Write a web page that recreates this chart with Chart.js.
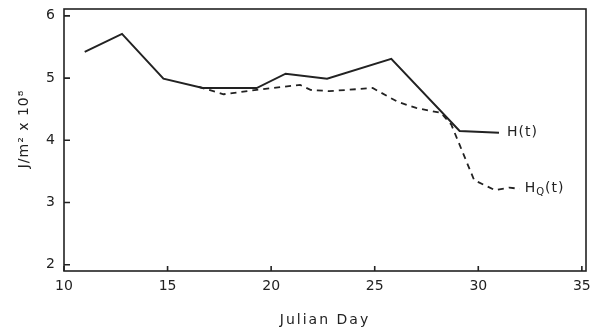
<!DOCTYPE html>
<html lang="en">
<head>
    <meta charset="UTF-8">
    <title>H(t) vs Julian Day</title>
    <style>
        body { margin: 0; background: #fff; }
        #wrap { width: 606px; height: 327px; }
    </style>
    <script src="https://cdn.jsdelivr.net/npm/chart.js"></script>
</head>
<body>
    <div id="wrap">
        <canvas id="chart" width="606" height="327"></canvas>
    </div>

    <script>
        // values
        const hDays = [11.0, 12.8, 14.8, 16.7, 19.3, 20.7, 22.7, 25.8, 29.1, 31.0];
        const hVals = [5.42, 5.71, 4.99, 4.84, 4.84, 5.07, 4.99, 5.31, 4.15, 4.12];
        const hqDays = [16.5, 17.7, 19.3, 21.4, 21.9, 22.8, 24.9, 26.1, 27.0, 28.2, 28.7, 29.8, 30.8, 31.5, 32.0];
        const hqVals = [4.86, 4.74, 4.81, 4.89, 4.81, 4.79, 4.84, 4.62, 4.52, 4.44, 4.25, 3.36, 3.20, 3.24, 3.22];
        const xTicks = [10, 15, 20, 25, 30, 35];
        const yTicks = [2, 3, 4, 5, 6];

        const ink = '#222';
        const fontFam = '"DejaVu Sans", sans-serif';

        function toPoints(xs, ys) {
            return xs.map((x, i) => ({ x: x, y: ys[i] }));
        }

        // frame, inward ticks, axis titles and curve labels
        const paperPlugin = {
            id: 'paper',
            afterDraw(chart) {
                const ctx = chart.ctx;
                const a = chart.chartArea;
                const xs = chart.scales.x, ys = chart.scales.y;
                ctx.save();
                ctx.strokeStyle = ink;
                ctx.lineWidth = 1.6;
                ctx.strokeRect(a.left, a.top, a.right - a.left, a.bottom - a.top);

                ctx.beginPath();
                xTicks.forEach(v => {
                    const px = xs.getPixelForValue(v);
                    ctx.moveTo(px, a.bottom);
                    ctx.lineTo(px, a.bottom - 5);
                });
                yTicks.forEach(v => {
                    const py = ys.getPixelForValue(v);
                    ctx.moveTo(a.left, py);
                    ctx.lineTo(a.left + 6, py);
                });
                ctx.stroke();

                ctx.fillStyle = ink;
                ctx.textBaseline = 'middle';

                // x title
                ctx.font = '14px ' + fontFam;
                ctx.letterSpacing = '2px';
                ctx.textAlign = 'center';
                ctx.fillText('Julian Day', (a.left + a.right) / 2, 320);

                // y title
                ctx.save();
                ctx.translate(24, 129);
                ctx.rotate(-Math.PI / 2);
                ctx.letterSpacing = '1px';
                ctx.fillText('J/m\u00B2 x 10\u2078', 0, 0);
                ctx.restore();

                // curve labels
                ctx.textAlign = 'left';
                ctx.letterSpacing = '1px';
                const hx = xs.getPixelForValue(hDays[hDays.length - 1]) + 8;
                const hy = ys.getPixelForValue(hVals[hVals.length - 1]);
                ctx.fillText('H(t)', hx, hy);

                const qx = xs.getPixelForValue(hqDays[hqDays.length - 1]) + 5;
                const qy = ys.getPixelForValue(hqVals[hqVals.length - 1]);
                ctx.fillText('H', qx, qy);
                let w = ctx.measureText('H').width;
                ctx.font = '10px ' + fontFam;
                ctx.fillText('Q', qx + w, qy + 4);
                w += ctx.measureText('Q').width;
                ctx.font = '14px ' + fontFam;
                ctx.fillText('(t)', qx + w, qy);
                ctx.restore();
            }
        };

        new Chart(document.getElementById('chart'), {
            type: 'line',
            data: {
                datasets: [{
                    label: 'H(t)',
                    data: toPoints(hDays, hVals),
                    borderColor: ink,
                    borderWidth: 2,
                    pointRadius: 0,
                    tension: 0,
                    fill: false
                }, {
                    label: 'HQ(t)',
                    data: toPoints(hqDays, hqVals),
                    borderColor: ink,
                    borderWidth: 1.8,
                    borderDash: [6, 5],
                    pointRadius: 0,
                    tension: 0,
                    fill: false
                }]
            },
            options: {
                responsive: false,
                animation: false,
                layout: { padding: { top: 9, right: 20, left: 0, bottom: 0 } },
                plugins: {
                    legend: { display: false },
                    tooltip: { enabled: false }
                },
                scales: {
                    x: {
                        type: 'linear',
                        min: 10,
                        max: 35.2,
                        afterBuildTicks: s => { s.ticks = xTicks.map(v => ({ value: v })); },
                        afterFit: s => { s.height = 56; s.paddingLeft = 0; s.paddingRight = 0; },
                        grid: { display: false, drawTicks: false },
                        border: { display: false },
                        ticks: {
                            padding: 7,
                            color: ink,
                            maxRotation: 0,
                            font: { family: fontFam, size: 14 }
                        }
                    },
                    y: {
                        type: 'linear',
                        min: 1.9,
                        max: 6.11,
                        afterBuildTicks: s => { s.ticks = yTicks.map(v => ({ value: v })); },
                        afterFit: s => { s.width = 64; s.paddingTop = 0; s.paddingBottom = 0; },
                        grid: { display: false, drawTicks: false },
                        border: { display: false },
                        ticks: {
                            padding: 9,
                            color: ink,
                            font: { family: fontFam, size: 14 }
                        }
                    }
                }
            },
            plugins: [paperPlugin]
        });
    </script>
</body>
</html>
